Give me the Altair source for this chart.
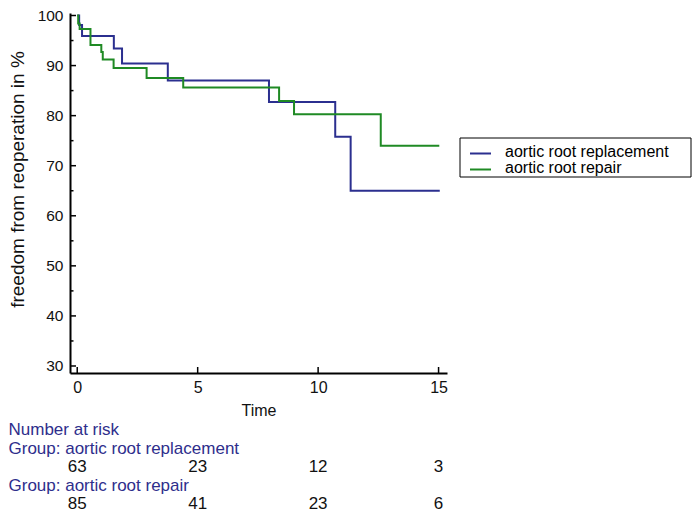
import altair as alt
import pandas as pd

# Kaplan-Meier curves (time, freedom from reoperation in %)
repl_time = [0, 0.08, 0.2, 1.52, 1.86, 3.76, 7.96, 10.71, 11.35, 15.05]
repl_surv = [100, 98.1, 95.9, 93.4, 90.4, 87.0, 82.7, 75.8, 65.0, 65.0]
rep_time = [0, 0.04, 0.1, 0.55, 1.0, 1.06, 1.51, 2.88, 4.4, 8.38, 9.0, 12.6, 15.03]
rep_surv = [100, 98.4, 97.3, 94.1, 92.7, 91.2, 89.5, 87.5, 85.6, 82.9, 80.3, 74.0, 74.0]

groups = ["aortic root replacement", "aortic root repair"]
colors = ["#2b2f8f", "#1f8a24"]

y_ticks = [30, 40, 50, 60, 70, 80, 90, 100]
y_minor = [35, 45, 55, 65, 75, 85, 95]
x_ticks = [0, 5, 10, 15]

risk_times = [0, 5, 10, 15]
risk_replacement = [63, 23, 12, 3]
risk_repair = [85, 41, 23, 6]

FONT = "Liberation Sans"
W, H = 377, 360
TXT_BLUE = "#2e2e8c"

df = pd.concat([
    pd.DataFrame({"time": repl_time, "surv": repl_surv, "group": groups[0]}),
    pd.DataFrame({"time": rep_time, "surv": rep_surv, "group": groups[1]}),
])

x_enc = alt.X("time:Q", scale=alt.Scale(domain=[-0.3, 15.35], nice=False, zero=False),
              axis=alt.Axis(values=x_ticks, title="Time", labelPadding=6,
                            titleY=42, titleBaseline="alphabetic"))
y_enc = alt.Y("surv:Q", scale=alt.Scale(domain=[28.6, 100.5], nice=False, zero=False),
              axis=alt.Axis(values=y_ticks, title="freedom from reoperation in %",
                            labelPadding=7, labelFontSize=15.5, titleX=-53, titleY=166,
                            titleBaseline="middle", titleAlign="center",
                            titleFontSize=19))
color_enc = alt.Color("group:N", scale=alt.Scale(domain=groups, range=colors), legend=None)

lines = alt.Chart(df).mark_line(interpolate="step-after", strokeWidth=2).encode(
    x=x_enc, y=y_enc, color=color_enc, detail="group:N")

ymaj = alt.Chart(pd.DataFrame({"surv": y_ticks})).mark_rule(color="black", strokeWidth=1.5).encode(
    y=y_enc, x=alt.value(0), x2=alt.value(6))
ymin = alt.Chart(pd.DataFrame({"surv": y_minor})).mark_rule(color="black", strokeWidth=1.5).encode(
    y=y_enc, x=alt.value(0), x2=alt.value(3.5))
xmaj = alt.Chart(pd.DataFrame({"time": x_ticks})).mark_rule(color="black", strokeWidth=1.5).encode(
    x=x_enc, y=alt.value(H), y2=alt.value(H - 6))

# legend (drawn by hand so the box matches)
leg_box = alt.Chart(pd.DataFrame({"k": [0]})).mark_rect(fill="white", stroke="black", strokeWidth=1).encode(
    x=alt.value(390), x2=alt.value(621), y=alt.value(125), y2=alt.value(164))
leg_layers = []
for i, g in enumerate(groups):
    yy = 140.5 + 16 * i
    d = pd.DataFrame({"group": [g]})
    leg_layers.append(alt.Chart(d).mark_rule(strokeWidth=2, color=colors[i]).encode(
        x=alt.value(400), x2=alt.value(421), y=alt.value(yy)))
    leg_layers.append(alt.Chart(d).mark_text(align="left", baseline="middle", font=FONT,
                                             fontSize=16, color="black").encode(
        x=alt.value(435), y=alt.value(yy - 2), text="group:N"))

# number at risk table
row_y = [417, 435.5, 454, 472.5, 490.5]
labels = ["Number at risk", "Group: " + groups[0], "Group: " + groups[1]]
label_rows = [0, 1, 3]
table_layers = []
for lab, r in zip(labels, label_rows):
    table_layers.append(alt.Chart(pd.DataFrame({"t": [lab]})).mark_text(
        align="left", baseline="middle", font=FONT, fontSize=17, color=TXT_BLUE).encode(
        x=alt.value(-61.5), y=alt.value(row_y[r]), text="t:N"))
for vals, r in [(risk_replacement, 2), (risk_repair, 4)]:
    table_layers.append(alt.Chart(pd.DataFrame({"time": risk_times, "n": vals})).mark_text(
        align="center", baseline="middle", font=FONT, fontSize=17, color="#111111").encode(
        x=x_enc, y=alt.value(row_y[r]), text="n:Q"))

chart = alt.layer(lines, ymaj, ymin, xmaj, leg_box, *leg_layers, *table_layers).properties(
    width=W, height=H, autosize="none",
    padding={"left": 62, "top": 5, "right": 245, "bottom": 138},
).configure_view(stroke=None).configure_axis(
    grid=False, ticks=False, domainColor="black", domainWidth=2,
    labelFont=FONT, labelFontSize=16, labelColor="#111111",
    titleFont=FONT, titleFontSize=16, titleFontWeight="normal", titleColor="#111111",
)

chart.save("out.html", embed_options={"renderer": "svg", "actions": False})
